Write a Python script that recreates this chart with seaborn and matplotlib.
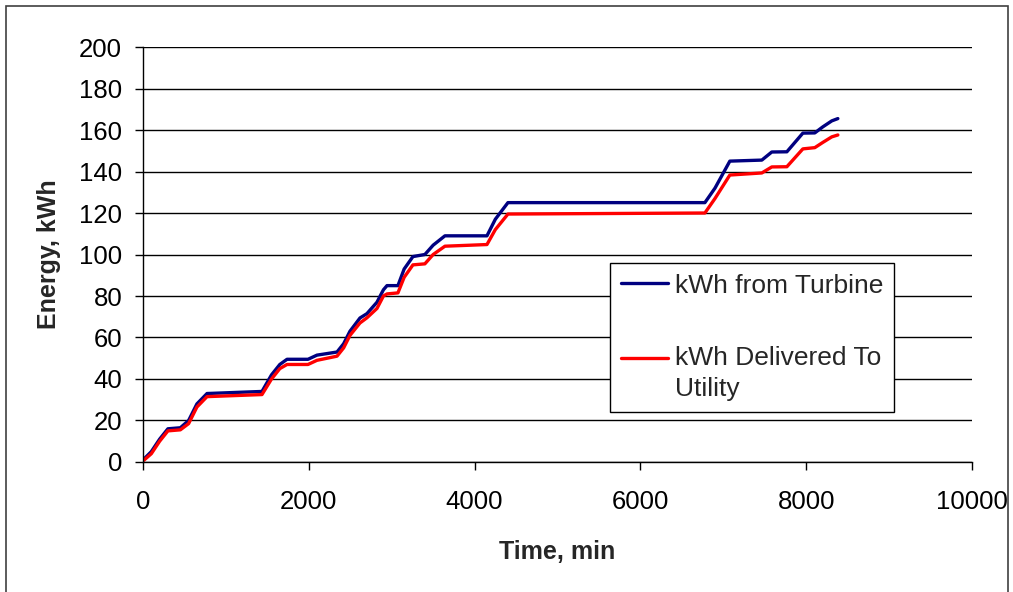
import numpy as np
import pandas as pd
import seaborn as sns
import matplotlib
matplotlib.use('Agg')
from matplotlib import pyplot as plt
from matplotlib.patches import Rectangle

# values
time_min = [0, 100, 200, 300, 450, 550, 650, 772, 1435, 1550, 1650, 1737, 1990, 2098,
            2340, 2420, 2496, 2617, 2701, 2822, 2900, 2943, 3075, 3150, 3256, 3400,
            3500, 3642, 4149, 4250, 4402, 6778, 6900, 7079, 7465, 7585, 7767, 7960,
            8104, 8200, 8309, 8382]
turbine_kwh = [1, 5, 11, 16, 16.5, 20, 28, 33, 34, 42, 47, 49.5, 49.5, 51.5,
               53, 57, 63, 69.4, 71.5, 77, 83, 85, 85, 93, 99, 100,
               104.5, 109, 109, 117, 125, 125, 132, 145, 145.5, 149.4, 149.5, 158.5,
               158.6, 161.5, 164.4, 165.5]
utility_kwh = [0.5, 4, 10, 15, 15.5, 18.5, 26.5, 31.5, 32.5, 40, 45, 47, 47, 49,
               51, 55, 61, 67, 69.5, 74, 80, 81, 81.5, 89, 95, 95.5,
               100, 104, 104.8, 112, 119.5, 120, 127, 138.3, 139.3, 142.2, 142.3, 150.9,
               151.5, 154, 156.7, 157.6]
series_names = ['kWh from Turbine', 'kWh Delivered To\nUtility']

df = pd.concat([
    pd.DataFrame({'time': time_min, 'energy': turbine_kwh, 'series': series_names[0]}),
    pd.DataFrame({'time': time_min, 'energy': utility_kwh, 'series': series_names[1]}),
])

sns.set_style('white')
plt.rcParams['font.family'] = ['Liberation Sans', 'DejaVu Sans']

fig = plt.figure(figsize=(10.13, 5.92), dpi=100)
ax = fig.add_axes([0.1412, 0.2196, 0.8183, 0.7010])

sns.lineplot(data=df, x='time', y='energy', hue='series', hue_order=series_names,
             palette=['#000080', '#FF0000'], linewidth=2.4, sort=False,
             estimator=None, ax=ax)

ax.set_xlim(0, 10000)
ax.set_ylim(0, 200)
ax.set_xticks(np.arange(0, 10001, 2000))
ax.set_yticks(np.arange(0, 201, 20))
ax.grid(axis='y', color='black', linewidth=1)
ax.grid(axis='x', visible=False)
ax.set_axisbelow(True)
for s in ['top', 'right']:
    ax.spines[s].set_visible(False)
for s in ['left', 'bottom']:
    ax.spines[s].set_color('black')
    ax.spines[s].set_linewidth(1)
ax.tick_params(axis='both', direction='out', length=6, width=1, color='black',
               labelsize=18.5, labelcolor='black', left=True, bottom=True)
ax.tick_params(axis='x', pad=14)
ax.tick_params(axis='y', pad=9)
ax.set_xlabel('Time, min', fontsize=18, fontweight='bold', labelpad=19)
ax.set_ylabel('Energy, kWh', fontsize=18, fontweight='bold', labelpad=13)

leg = ax.legend(loc='upper left', bbox_to_anchor=(0.5633, 0.4795), fontsize=19,
                frameon=True, fancybox=False, framealpha=1, edgecolor='black',
                handlelength=1.8, handletextpad=0.25, labelspacing=1.85,
                borderpad=0.4, borderaxespad=0)
leg.get_frame().set_linewidth(1)
for txt in leg.get_texts():
    txt.set_linespacing(1.35)
for line in leg.get_lines():
    line.set_linewidth(2.4)
# handle of the two-line entry sits level with its first line
second = leg.get_lines()[1]
second.set_ydata(np.asarray(second.get_ydata()) + 11.5)

# outer chart frame
fig.patches.append(Rectangle((6 / 1013, -0.01), 1002 / 1013, 1 - 6 / 592 + 0.01,
                             transform=fig.transFigure, fill=False,
                             edgecolor='#404040', linewidth=1.2))

fig.savefig('out.png', dpi=100)
